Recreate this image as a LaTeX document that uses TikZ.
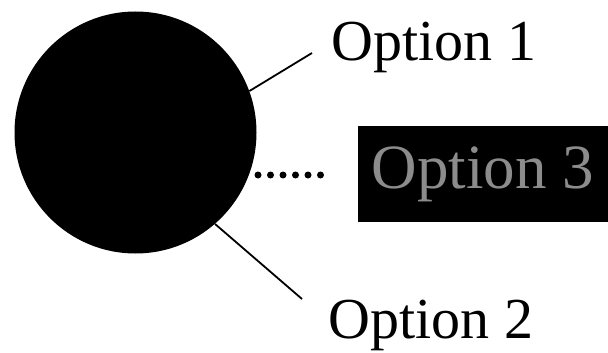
\documentclass[tikz,border=0pt]{standalone}
\usepackage{fontspec}
\setmainfont{Liberation Serif}
\usepackage{tikz}
\usepackage{xcolor}
\definecolor{dimtext}{HTML}{8C8C8C}

\begin{document}
\begin{tikzpicture}[
  x=1pt, y=-1pt,
  hub/.style={circle, fill=black, minimum size=242pt, inner sep=0pt},
  optlabel/.style={anchor=base, inner sep=0pt, font=\fontsize{58}{62}\selectfont},
  darkbox/.style={fill=black, minimum width=250pt, minimum height=96pt,
                  inner sep=0pt, text=dimtext, font=\fontsize{63}{66}\selectfont},
  ln/.style={line width=1.8pt, black},
  dots/.style={line width=7pt, line cap=round, dash pattern=on 0pt off 12.5pt},
]
  \useasboundingbox (0,0) rectangle (608,353);

  \node[hub] (hub) at (135.5,132.5) {};
  \node[optlabel] (opt1) at (434,60) {Option 1};
  \node[optlabel] (opt2) at (431,338) {Option 2};
  \node[darkbox] (opt3) at (483,174) {Option 3};

  \coordinate (end1) at (312,53);
  \coordinate (end2) at (302,299);
  \coordinate (dotA) at (258,175);
  \coordinate (dotB) at (321,175);

  \draw[ln] (hub.20) -- (end1);
  \draw[ln] (hub.-49) -- (end2);
  \draw[dots] (dotA) -- (dotB);
\end{tikzpicture}
\end{document}
